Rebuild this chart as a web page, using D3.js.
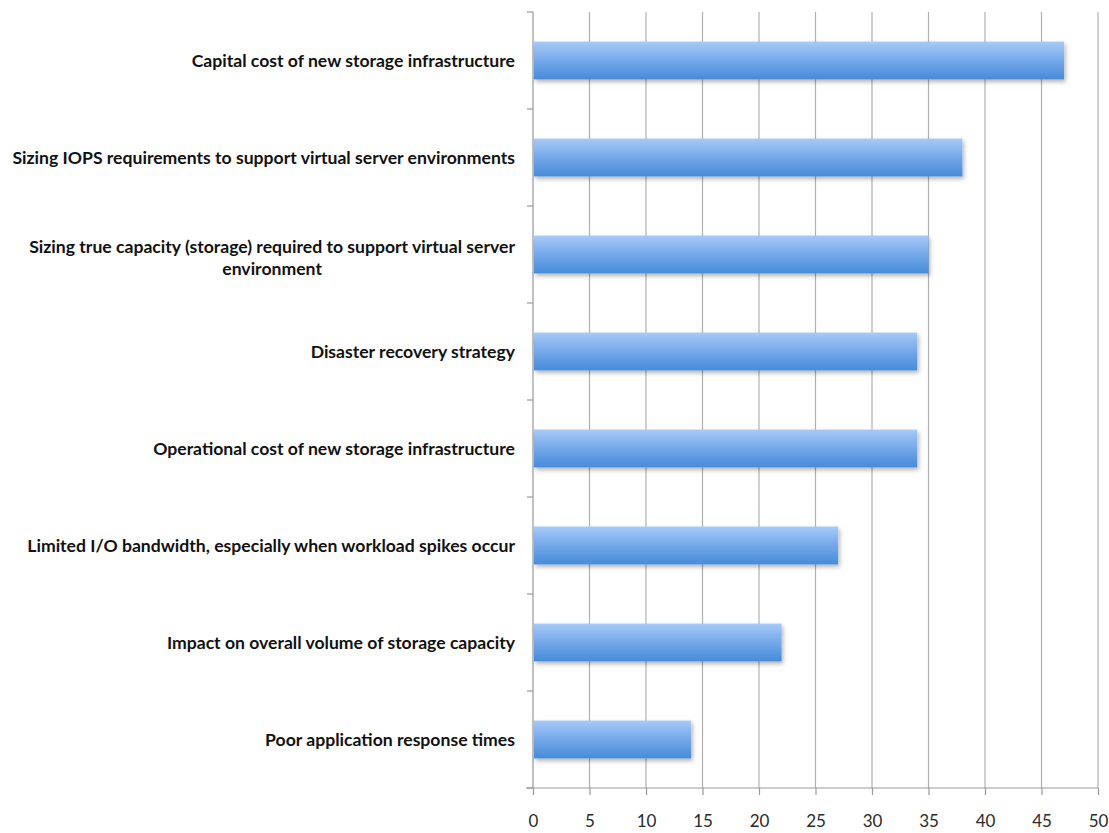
<!DOCTYPE html>
<html>
<head>
<meta charset="utf-8">
<script src="https://cdn.jsdelivr.net/npm/d3@7"></script>
<style>
  body { margin: 0; background: #fff; }
  svg { display: block; font-family: Lato, "Open Sans", sans-serif; }
</style>
</head>
<body>
<svg id="chart" width="1109" height="833"></svg>
<script>
var categories = [
  "Capital cost of new storage infrastructure",
  "Sizing IOPS requirements to support virtual server environments",
  "Sizing true capacity (storage) required to support virtual server environment",
  "Disaster recovery strategy",
  "Operational cost of new storage infrastructure",
  "Limited I/O bandwidth, especially when workload spikes occur",
  "Impact on overall volume of storage capacity",
  "Poor application response times"
];
var values = [47, 38, 35, 34, 34, 27, 22, 14];
var xTicks = [0, 5, 10, 15, 20, 25, 30, 35, 40, 45, 50];

// plot box (note: "top" is a reserved window global, so use px* names)
var pxLeft = 533, pxRight = 1098, pxTop = 12, pxBottom = 788,
    labelRight = 515, labelMax = 512;

var svg = d3.select("#chart");

var x = d3.scaleLinear().domain([0, 50]).range([pxLeft, pxRight]);
var y = d3.scaleBand().domain(categories).range([pxTop, pxBottom])
    .paddingInner(0.61).paddingOuter(0.305);

// gradient + shadow for the bars
var defs = svg.append("defs");
var grad = defs.append("linearGradient").attr("id", "barGrad")
    .attr("x1", 0).attr("y1", 0).attr("x2", 0).attr("y2", 1);
grad.append("stop").attr("offset", "0%").attr("stop-color", "#a7caf7");
grad.append("stop").attr("offset", "50%").attr("stop-color", "#74a8ea");
grad.append("stop").attr("offset", "100%").attr("stop-color", "#468bd8");
var shadow = defs.append("filter").attr("id", "shadow")
    .attr("x", "-5%").attr("y", "-20%").attr("width", "115%").attr("height", "160%");
shadow.append("feDropShadow").attr("dx", 1.5).attr("dy", 2.5)
    .attr("stdDeviation", 2).attr("flood-color", "#000").attr("flood-opacity", 0.3);

// vertical gridlines
svg.append("g").selectAll("line")
    .data(xTicks.slice(1))
  .enter().append("line")
    .attr("x1", function (d) { return x(d); })
    .attr("x2", function (d) { return x(d); })
    .attr("y1", pxTop)
    .attr("y2", pxBottom)
    .attr("stroke", "#b0b0b0")
    .attr("stroke-width", 1.2);

// bottom axis
var xAxis = svg.append("g")
    .attr("transform", "translate(0," + pxBottom + ")")
    .call(d3.axisBottom(x).tickValues(xTicks).tickSize(7).tickPadding(20));
xAxis.select(".domain").attr("stroke", "#999").attr("stroke-width", 1.2)
    .attr("d", "M" + (pxLeft - 7) + ",0H" + pxRight);
xAxis.selectAll(".tick line").attr("stroke", "#999").attr("stroke-width", 1.2);
xAxis.selectAll(".tick text")
    .attr("font-size", 17).attr("fill", "#2a2a2a")
    .attr("font-family", "Lato, 'Open Sans', sans-serif");

// left axis with ticks between categories
var bounds = d3.range(categories.length + 1).map(function (i) {
  return pxTop + i * y.step();
});
var yAxis = svg.append("g");
yAxis.append("line")
    .attr("x1", pxLeft).attr("x2", pxLeft)
    .attr("y1", pxTop).attr("y2", pxBottom)
    .attr("stroke", "#999").attr("stroke-width", 1.2);
yAxis.selectAll(".ytick")
    .data(bounds)
  .enter().append("line")
    .attr("class", "ytick")
    .attr("x1", pxLeft - 6).attr("x2", pxLeft)
    .attr("y1", function (d) { return d; })
    .attr("y2", function (d) { return d; })
    .attr("stroke", "#999").attr("stroke-width", 1.2);

// bars
svg.append("g").selectAll("rect")
    .data(values)
  .enter().append("rect")
    .attr("x", x(0) + 1)
    .attr("y", function (d, i) { return y(categories[i]); })
    .attr("width", function (d) { return x(d) - x(0) - 1; })
    .attr("height", y.bandwidth())
    .attr("fill", "url(#barGrad)")
    .attr("filter", "url(#shadow)");

// category labels, wrapped when too wide
var labels = svg.append("g")
    .attr("font-size", 17.6)
    .attr("font-weight", "bold")
    .attr("fill", "#111");

categories.forEach(function (c) {
  var g = labels.append("g");
  var words = c.split(" "), lines = [], line = [];
  var probe = g.append("text");
  words.forEach(function (w) {
    line.push(w);
    probe.text(line.join(" "));
    if (probe.node().getComputedTextLength() > labelMax && line.length > 1) {
      line.pop();
      lines.push(line.join(" "));
      line = [w];
    }
  });
  lines.push(line.join(" "));
  probe.remove();

  var cy = y(c) + y.bandwidth() / 2 + (lines.length > 1 ? 3 : 0), lh = 22;
  var t = g.append("text")
      .attr("text-anchor", lines.length > 1 ? "middle" : "end");
  var widest = 0;
  lines.forEach(function (l, i) {
    t.append("tspan").text(l)
        .attr("y", cy + (i - (lines.length - 1) / 2) * lh)
        .attr("dy", "0.35em");
  });
  t.selectAll("tspan").each(function () {
    widest = Math.max(widest, this.getComputedTextLength());
  });
  t.selectAll("tspan").attr("x", lines.length > 1 ? labelRight - widest / 2 : labelRight);
});
</script>
</body>
</html>
